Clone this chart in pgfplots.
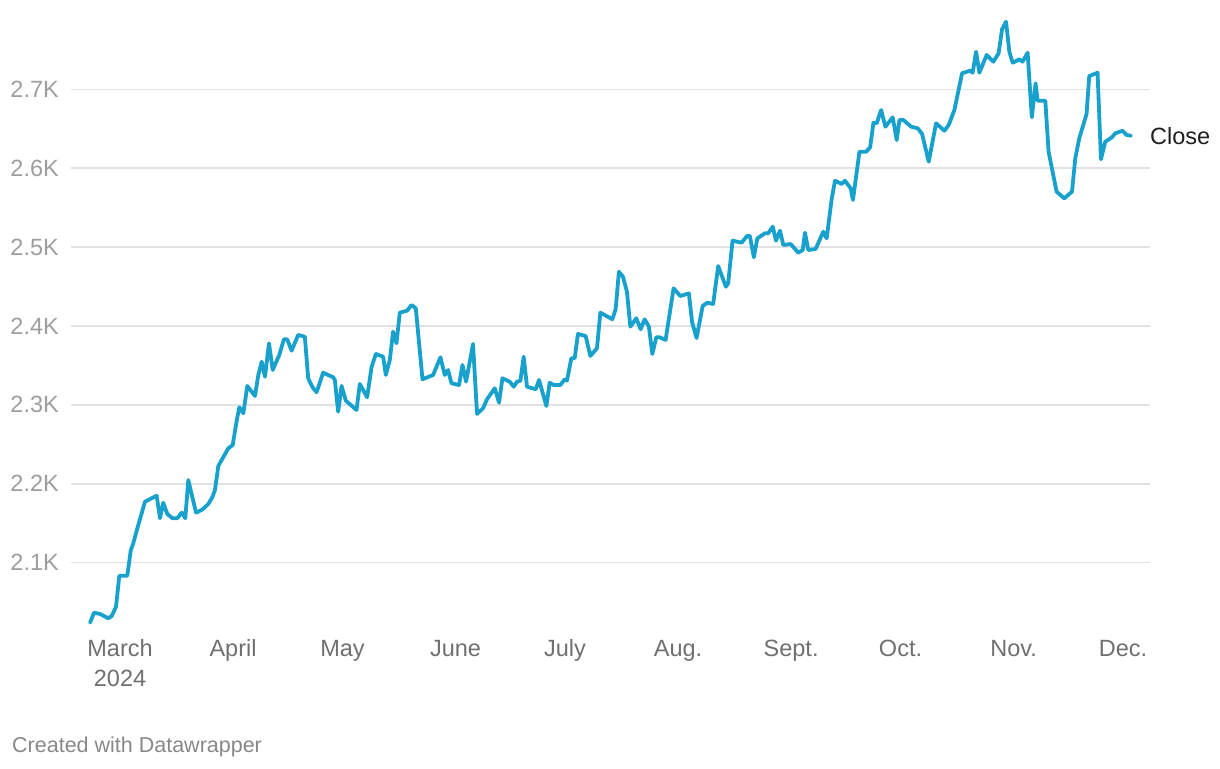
\documentclass[border=0pt]{standalone}
\usepackage{fontspec}
\setmainfont{Liberation Sans}
\usepackage{pgfplots}
\pgfplotsset{compat=1.18}
\definecolor{linec}{RGB}{24,161,205}
\definecolor{gridc}{RGB}{226,226,226}
\definecolor{ylab}{RGB}{158,158,158}
\definecolor{xlab}{RGB}{112,112,112}
\definecolor{foot}{RGB}{136,136,136}
\begin{document}
\begin{tikzpicture}[x=1pt,y=1pt]
\path[use as bounding box] (-71,-142.2) rectangle (1149,625.8);
\begin{axis}[
  at={(0,0)}, anchor=south west,
  scale only axis, width=1079pt, height=607.5pt,
  xmin=-13.44, xmax=282.4, ymin=2020, ymax=2790,
  axis x line*=bottom, axis y line*=left,
  axis line style={draw=none},
  tick style={draw=none}, major tick length=0pt,
  ytick={2100,2200,2300,2400,2500,2600,2700},
  yticklabels={2.1K,2.2K,2.3K,2.4K,2.5K,2.6K,2.7K},
  ymajorgrids, grid style={draw=gridc, line width=1.5pt},
  xtick={0,31,61,92,122,153,184,214,245,275},
  xticklabels={{\strut March\\2024},\strut April,\strut May,\strut June,\strut July,\strut Aug.,\strut Sept.,\strut Oct.,\strut Nov.,\strut Dec.},
  xticklabel style={align=center, anchor=north, inner sep=0pt, yshift=-10.2pt, text=xlab, font=\fontsize{23.5}{29.3}\selectfont},
  yticklabel style={anchor=east, inner sep=0pt, xshift=-12pt, text=ylab, font=\fontsize{23.5}{28}\selectfont},
  clip=false,
]
\addplot[color=linec, line width=3.8pt, line join=round, line cap=round, mark=none] coordinates {
(-8.22,2024.0) (-7.12,2036.6) (-5.48,2035.0) (-3.21,2029.5) (-2.27,2032.4) (-1.10,2044.2)
(-0.19,2083.5) (2.00,2083.5) (2.93,2115.2) (3.64,2124.6) (5.01,2147.8) (6.85,2177.3)
(10.05,2184.9) (10.96,2156.3) (11.86,2176.0) (12.96,2161.7) (14.44,2156.3) (15.71,2156.3)
(16.92,2163.4) (17.90,2156.3) (18.72,2204.8) (20.84,2163.4) (22.67,2167.7) (24.21,2174.4)
(25.30,2182.9) (26.04,2192.1) (26.95,2222.6) (29.69,2245.0) (30.90,2249.2) (31.99,2280.0)
(32.71,2297.0) (33.81,2289.4) (34.90,2324.0) (37.01,2311.3) (37.92,2337.9) (38.85,2354.7)
(39.75,2335.7) (40.85,2378.1) (41.86,2344.2) (43.67,2363.2) (44.93,2383.1) (45.84,2383.1)
(47.04,2368.7) (48.85,2388.6) (50.68,2386.4) (51.59,2333.7) (52.79,2322.3) (53.89,2316.0)
(55.70,2340.8) (58.44,2335.0) (58.90,2331.6) (59.81,2291.4) (60.74,2324.0) (61.92,2305.3)
(64.85,2293.5) (65.75,2326.5) (67.75,2309.6) (68.96,2347.7) (70.14,2364.5) (72.14,2361.1)
(72.88,2337.9) (73.97,2356.9) (74.88,2392.8) (75.81,2378.1) (76.71,2416.9) (78.71,2419.4)
(79.92,2426.6) (81.10,2422.4) (82.93,2332.4) (85.84,2337.9) (87.86,2360.3) (89.04,2337.9)
(89.95,2344.2) (90.88,2327.4) (92.96,2325.2) (93.89,2350.6) (94.88,2329.4) (96.79,2377.2)
(97.89,2288.5) (99.53,2295.7) (100.63,2307.1) (102.74,2321.0) (103.92,2302.8) (104.85,2333.7)
(106.85,2329.4) (107.95,2323.1) (108.85,2329.4) (109.78,2330.7) (110.68,2361.1) (111.59,2323.1)
(113.97,2319.8) (114.88,2331.6) (116.90,2298.6) (117.81,2328.1) (118.90,2325.2) (120.74,2325.2)
(121.92,2332.4) (122.55,2330.7) (123.75,2359.1) (124.66,2359.1) (125.56,2389.9) (127.67,2387.3)
(128.96,2362.0) (130.77,2371.7) (131.70,2416.9) (134.99,2408.5) (135.89,2421.2) (136.79,2468.8)
(137.89,2462.5) (138.99,2443.5) (139.92,2399.1) (141.56,2409.8) (142.74,2395.8) (143.84,2408.5)
(145.01,2399.1) (145.95,2364.5) (147.04,2385.7) (147.95,2385.7) (149.59,2382.3) (151.78,2447.8)
(153.62,2438.0) (155.97,2441.4) (156.85,2405.1) (158.08,2384.8) (159.75,2425.3) (160.99,2429.5)
(162.63,2427.9) (164.01,2476.0) (166.12,2449.8) (166.75,2454.1) (167.95,2508.1) (170.42,2505.6)
(171.95,2514.1) (172.69,2514.1) (173.79,2487.1) (174.74,2511.1) (176.84,2517.5) (177.73,2517.5)
(178.96,2525.9) (179.85,2508.1) (180.96,2520.8) (181.86,2502.7) (183.87,2503.9) (185.97,2492.9)
(187.18,2496.3) (187.81,2518.2) (188.71,2496.3) (190.73,2497.6) (192.82,2519.5) (193.75,2511.1)
(195.12,2560.6) (196.03,2584.1) (197.86,2580.0) (198.77,2584.1) (200.33,2574.5) (200.96,2559.7)
(202.74,2620.9) (204.58,2620.9) (205.67,2626.5) (206.58,2657.7) (207.48,2656.9) (208.68,2673.7)
(209.86,2652.6) (211.86,2664.5) (212.96,2635.7) (213.70,2661.1) (214.79,2661.1) (216.90,2652.6)
(218.71,2650.6) (219.92,2643.3) (221.73,2608.2) (223.75,2656.9) (226.03,2647.5) (227.21,2654.7)
(228.77,2673.7) (230.88,2720.3) (233.07,2723.6) (233.78,2721.0) (234.71,2747.6) (235.62,2721.0)
(237.62,2743.5) (239.45,2735.0) (240.90,2745.6) (241.84,2776.0) (242.93,2785.7) (243.84,2747.6)
(244.74,2733.7) (246.58,2738.0) (247.48,2735.0) (248.85,2746.4) (250.00,2664.5) (251.04,2707.6)
(251.59,2685.5) (253.70,2685.5) (254.60,2620.9) (256.79,2570.2) (258.90,2561.8) (261.01,2570.2)
(261.92,2612.5) (263.01,2637.9) (265.01,2668.7) (265.75,2716.8) (268.03,2721.0) (268.96,2611.3)
(270.14,2633.6) (271.97,2639.2) (272.88,2644.2) (274.88,2647.5) (275.97,2642.1) (277.18,2641.2)
};
\node[anchor=west, inner sep=0pt, xshift=19pt, text=black!88, font=\fontsize{23.5}{28}\selectfont] at (axis cs:277.18,2641.2) {Close};
\end{axis}
\node[anchor=base west, inner sep=0pt, text=foot, font=\fontsize{21.5}{26}\selectfont] at (-59,-126.2) {Created with Datawrapper};
\end{tikzpicture}
\end{document}
